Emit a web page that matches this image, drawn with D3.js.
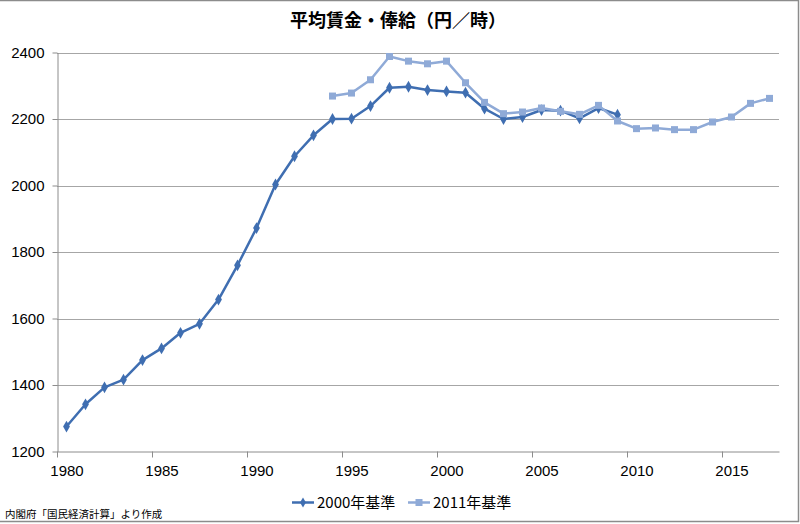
<!DOCTYPE html>
<html><head><meta charset="utf-8">
<script src="https://cdn.jsdelivr.net/npm/d3@7"></script>
<style>body{margin:0;background:#fff}svg{display:block}</style>
</head><body><svg id="c" width="800" height="524"></svg>
<script>
const title = "平均賃金・俸給（円／時）";
const source = "内閣府「国民経済計算」より作成";
const seriesNames = ["2000年基準", "2011年基準"];
const years2000 = d3.range(1980, 2010);
const values2000 = [1275,1342,1393,1416,1475,1510,1557,1584,1657,1760,1872,2003,2088,2151,2200,2201,2239,2294,2297,2287,2283,2279,2231,2200,2206,2227,2225,2202,2233,2213];
const years2011 = d3.range(1994, 2018);
const values2011 = [2269,2278,2318,2388,2374,2366,2374,2309,2250,2216,2221,2233,2223,2214,2241,2194,2171,2173,2168,2168,2191,2206,2247,2262];
const yTicks = [1200,1400,1600,1800,2000,2200,2400];
const xLabelYears = [1980,1985,1990,1995,2000,2005,2010,2015];

const svg = d3.select("#c");
const numFont = "'Liberation Sans', Arial, sans-serif";
const cjkFont = "'Noto Sans CJK JP', sans-serif";
const colors = ["#3F6EB1", "#8FAAD7"];

// outer border
svg.append("rect").attr("x",-1).attr("y",0.5).attr("width",799.5).attr("height",521)
  .attr("fill","none").attr("stroke","#8c8c8c").attr("stroke-width",1.5);

const x = d3.scaleLinear().domain([1979.5, 2017.5]).range([57, 779]);
const y = d3.scaleLinear().domain([1200, 2400]).range([451.5, 52.5]);

// gridlines
svg.append("g").selectAll("line").data(yTicks.slice(1)).join("line")
  .attr("x1",57).attr("x2",779).attr("y1",d=>Math.round(y(d))+0.5).attr("y2",d=>Math.round(y(d))+0.5)
  .attr("stroke","#a6a6a6").attr("stroke-width",1);

// y axis
const yAxis = svg.append("g").attr("transform","translate(57.5,0)")
  .call(d3.axisLeft(y).tickValues(yTicks).tickSize(5).tickSizeOuter(0).tickFormat(d3.format("d")));
yAxis.select(".domain").attr("stroke","#8c8c8c");
yAxis.selectAll(".tick line").attr("stroke","#8c8c8c");
yAxis.selectAll(".tick text").attr("font-family",numFont).attr("font-size",15).attr("fill","#000").attr("x",-13);

// x axis tick marks
const xTickPos = d3.range(1979.5, 2017, 5);
const xAxisTicks = svg.append("g").attr("transform","translate(0,451.5)")
  .call(d3.axisBottom(x).tickValues(xTickPos).tickSize(6).tickSizeOuter(0).tickFormat(""));
xAxisTicks.select(".domain").attr("stroke","#8c8c8c");
xAxisTicks.selectAll(".tick line").attr("stroke","#8c8c8c");
// x labels
const xAxisLabels = svg.append("g").attr("transform","translate(0,451.5)")
  .call(d3.axisBottom(x).tickValues(xLabelYears).tickSize(0).tickFormat(d3.format("d")));
xAxisLabels.select(".domain").remove();
xAxisLabels.selectAll(".tick text").attr("font-family",numFont).attr("font-size",15).attr("fill","#000").attr("dy","0").attr("y",24);

const line = d3.line().x(d=>x(d[0])).y(d=>y(d[1]));
const data2000 = years2000.map((yr,i)=>[yr, values2000[i]]);
const data2011 = years2011.map((yr,i)=>[yr, values2011[i]]);

function diamond(sel, s){ return sel.attr("d", d3.symbol().type(d3.symbolDiamond).size(s)); }

// series 1
svg.append("path").datum(data2000).attr("d",line).attr("fill","none").attr("stroke",colors[0]).attr("stroke-width",2.5).attr("stroke-linejoin","round");
svg.append("g").selectAll("path").data(data2000).join("path")
  .attr("transform",d=>`translate(${x(d[0])},${y(d[1])})`)
  .attr("d", d3.symbol().type(d3.symbolDiamond).size(40)).attr("fill",colors[0]);

// series 2
svg.append("path").datum(data2011).attr("d",line).attr("fill","none").attr("stroke",colors[1]).attr("stroke-width",2.5).attr("stroke-linejoin","round");
svg.append("g").selectAll("rect").data(data2011).join("rect")
  .attr("x",d=>x(d[0])-3.5).attr("y",d=>y(d[1])-3.5).attr("width",7).attr("height",7).attr("fill",colors[1]);

// title
svg.append("text").attr("x",398).attr("y",27).attr("text-anchor","middle")
  .attr("font-family",cjkFont).attr("font-weight","bold").attr("font-size",18).attr("fill","#000").text(title);

// legend
const lg = svg.append("g");
const legendItems = [{name:seriesNames[0], x:292, color:colors[0], type:"diamond"},{name:seriesNames[1], x:408, color:colors[1], type:"square"}];
legendItems.forEach(it=>{
  lg.append("line").attr("x1",it.x).attr("x2",it.x+22).attr("y1",502.5).attr("y2",502.5).attr("stroke",it.color).attr("stroke-width",2.5);
  if(it.type==="diamond"){
    lg.append("path").attr("transform",`translate(${it.x+11},502.5)`).attr("d",d3.symbol().type(d3.symbolDiamond).size(30)).attr("fill",it.color);
  } else {
    lg.append("rect").attr("x",it.x+7.5).attr("y",499).attr("width",7).attr("height",7).attr("fill",it.color);
  }
  lg.append("text").attr("x",it.x+25).attr("y",508).attr("font-family",cjkFont).attr("font-size",15).attr("fill","#000").text(it.name);
});

// source
svg.append("text").attr("x",5).attr("y",518).attr("font-family",cjkFont).attr("font-size",10.5).attr("fill","#000").text(source);
</script></body></html>
